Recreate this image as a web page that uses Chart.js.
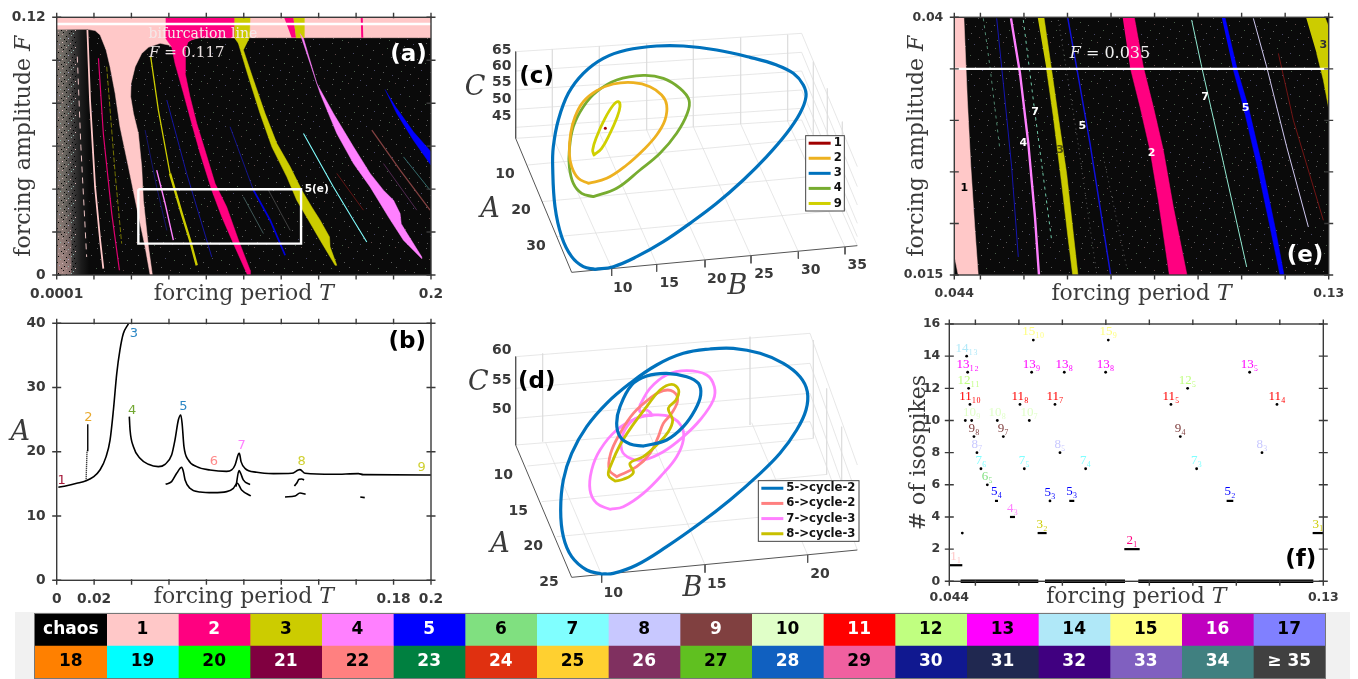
<!DOCTYPE html>
<html lang="en">
<head>
<meta charset="UTF-8">
<title>Forced oscillator: isospike diagrams</title>
<script src="https://cdn.jsdelivr.net/npm/chart.js@4.4.1/dist/chart.umd.min.js"></script>
<style>
    html, body { margin: 0; background: #fff; }
    canvas { position: absolute; }
    #stripBack { position: absolute; left: 15px; top: 612px; width: 1335px; height: 67px; background: #f1f1f1; }
    #strip { outline: 1px solid #777; }
</style>
</head>
<body>
<canvas id="panelA" width="450" height="310" style="left:0;top:0"></canvas>
<canvas id="panelB" width="450" height="300" style="left:0;top:310px"></canvas>
<canvas id="panelC" width="430" height="290" style="left:450px;top:20px"></canvas>
<canvas id="panelD" width="430" height="290" style="left:450px;top:320px"></canvas>
<canvas id="panelE" width="468" height="310" style="left:890px;top:0"></canvas>
<canvas id="panelF" width="468" height="300" style="left:890px;top:310px"></canvas>
<div id="stripBack"></div>
<canvas id="strip" width="1290" height="64" style="left:35px;top:614px"></canvas>
<script>
// ---- panel (a): periodic windows in the (T, F) plane ----
const aPinkT = [.0001,.2,.2,.0767,.0722,.0687,.0642,.0598,.0553,.0491,.0455,.0420,.0398,.0396,.0411,.0437,.0455,.0464,.0491,.0512,.0500,.0473,.0428,.0384,.0339,.0313,.0286,.0265,.0233,.0206,.0165,.0001];
const aPinkF = [.12,.12,.1105,.1105,.1097,.1079,.1048,.1071,.1079,.1060,.1032,.0970,.0892,.0830,.0752,.0659,.0504,.0348,.0131,0,0,.0131,.0317,.0504,.0690,.0846,.0970,.1048,.1118,.1138,.1144,.1144];
const aTwoT = [.0583,.0950,.0950,.0749,.0704,.0687,.0687,.0713,.0749,.0793,.0847,.0909,.0972,.1034,.1034,.1020,.0945,.0883,.0829,.0767,.0722,.0678,.0633,.0615,.0583];
const aTwoF = [.12,.12,.1105,.1105,.1087,.1048,.0939,.0830,.0706,.0581,.0426,.0317,.0162,.0022,0,0,.0146,.0270,.0395,.0566,.0706,.0846,.0985,.1063,.1102];
const aThreeT = [.0950,.1034,.1030,.0998,.1052,.1114,.1177,.1248,.1310,.1363,.1408,.1458,.1461,.1497,.1488,.1408,.1346,.1283,.1230,.1150,.1087,.1025,.0971,.0950];
const aThreeF = [.12,.12,.1105,.1048,.0908,.0752,.0612,.0504,.0395,.0317,.0255,.0177,.0131,.0045,.0045,.0162,.0255,.0348,.0457,.0597,.0752,.0923,.1079,.1105];
const aTopTwoT = [.1215,.1265,.1279,.1255];
const aTopTwoF = [.12,.12,.1107,.1107];
const aTopThreeT = [.1265,.1322,.1322,.1279];
const aTopThreeF = [.12,.12,.1105,.1105];
const aFourT = [.1301,.1408,.1497,.1586,.1675,.1773,.1853,.1951,.1951,.1862,.1841,.1835,.1800,.1746,.1675,.1586,.1479,.1390,.1319];
const aFourF = [.1125,.0846,.0659,.0519,.0410,.0270,.0162,.0076,.0084,.0208,.0239,.0286,.0348,.0395,.0473,.0597,.0752,.0892,.1102];
const aFiveT = [.1755,.1817,.1906,.2,.2,.1906,.1817];
const aFiveF = [.0864,.0752,.0628,.0511,.0574,.0667,.0776];
// thin windows: [T values, F values, colour, width, dash]
const aThin = [
    [[.0165,.0179,.0206,.0233,.0250], [.1141,.0815,.0410,.0162,.0030], '#ffc8c8', 1.8],
    [[.0111,.0130,.0161], [.1017,.0600,.0084], '#e8c0c0', 1, [6,5]],
    [[.0224,.0250,.0295,.0336], [.1009,.0659,.0286,.0022], '#e00070', 1.2],
    [[.0268,.0313,.0348], [.0970,.0473,.0146], '#909000', 0.8, [5,2]],
    [[.0503,.0544,.0606], [.1017,.0768,.0473], '#cccc00', 1.3],
    [[.0606,.0669,.0713,.0749], [.0473,.0286,.0162,.0045], '#cccc00', 2.4],
    [[.0473,.0535,.0589], [.0675,.0410,.0208], '#14146c', 1],
    [[.0535,.0580,.0624], [.0488,.0333,.0162], '#ff80ff', 1.4],
    [[.0589,.0695,.0829], [.0815,.0473,.0084], '#1414a0', 1],
    [[.0927,.1052], [.0690,.0395], '#14148c', 1],
    [[.1052,.1141,.1221], [.0395,.0255,.0092], '#0000d8', 1.8],
    [[.1319,.1479,.1586,.1657], [.0659,.0410,.0255,.0154], '#80ffff', 1.1],
    [[.1684,.1835,.1995], [.0675,.0488,.0302], '#804040', 1.3],
    [[.1497,.1639], [.0473,.0302], '#601414', 1],
    [[.1746,.1924], [.0519,.0302], '#502850', 1],
    [[.1853,.1995], [.0550,.0395], '#366c6c', 1],
    [[.0998,.1105], [.0364,.0193], '#405858', 1],
    [[.1132,.1248], [.0395,.0208], '#404040', 1],
    [[.1630,.1633], [.12,.1105], '#ff0080', 2]
];
const aBoxT = [.0437,.1306,.1306,.0437,.0437];
const aBoxF = [.0399,.0399,.0146,.0146,.0399];
const aBifF = .1169;
const aTicksT = [.0001,.02,.04,.06,.08,.1,.12,.14,.16,.18,.2];
const aTicksF = [0,.02,.04,.06,.08,.1,.12];

// ---- panel (b): amplitude of the cycles ----
const bMainT = [.0009,.0053,.0107,.0157,.0196,.0232,.0264,.0285,.0303,.0321,.0338,.0356,.0383];
const bMainA = [14.47,14.73,15.1,15.5,16.1,17.2,19.25,21.8,26.5,32.2,35.85,38.4,39.9];
const bRightT = [.0388,.0392,.0410,.0445,.0490,.0543,.0579,.0614,.0632,.0650,.0663,.0670,.0680,.0703,.0748,.0819,.0908,.0935,.0953,.0971,.0976,.0985,.1006,.1069,.1158,.1256,.1291,.1300,.1327,.1478,.1612,.1638,.2];
const bRightA = [25.47,23.4,20.8,18.99,18.05,17.69,18.05,19.5,21.84,24.95,25.73,24.44,20.8,18.73,17.69,17.17,16.96,17.17,17.95,19.66,19.77,18.47,17.43,16.81,16.6,16.65,17.17,17.22,16.65,16.5,16.6,16.45,16.4];
const bLowT = [.0582,.0614,.0641,.0668,.0677,.0686,.0712,.0766,.0837,.0908,.0944,.0965,.0988,.1037];
const bLowA = [14.94,15.36,16.65,17.59,16.91,15.62,14.32,13.75,13.64,13.8,14.32,15.1,14.06,13.13];
const bSevenT = [.0958,.0974,.0983,.0997,.1033];
const bSevenA = [14.58,17.07,16.65,15.62,14.89];
const bEightUpT = [.1270,.1282,.1295,.1309,.1322];
const bEightUpA = [14.68,15.1,15.72,15.77,15.62];
const bEightLowT = [.1220,.1273,.1300,.1330];
const bEightLowA = [12.97,13.13,13.59,13.39];
const bDashT = [.1622,.1646];
const bDashA = [12.97,12.87];
const bTwoSolidT = [.0162,.0166];
const bTwoSolidA = [20.2,24.3];
const bTwoDotT = [.0157,.0162];
const bTwoDotA = [15.5,20.2];
const bCycleNames = ['1','2','3','4','5','6','7','8','9'];
const bCycleT = [.0027,.0169,.0413,.0403,.0677,.0840,.0988,.1309,.1950];
const bCycleA = [15.46,25.37,38.44,26.46,27.03,18.52,20.96,18.42,17.59];
const bCycleColors = ['#a5193a','#e8a92c','#2a86c4','#72a832','#2a86c4','#ff8a8a','#ff80ff','#d0d030','#d0d030'];
const bTicksT = [0,.02,.04,.06,.08,.1,.12,.14,.16,.18,.2];
const bTicksA = [0,10,20,30,40];

// ---- panel (c): limit cycles, in projected view coordinates ----
const cBlueX = [435,400,365,335,315,308,310,325,355,400,460,530,620,700,800,900,980,1030,1060,1068,1050,1010,950,880,800,720,640,560,490,435];
const cBlueY = [748,740,710,650,560,440,380,300,220,160,115,90,78,78,90,112,135,160,195,230,280,340,410,480,550,610,665,710,740,748];
const cOrangeX = [415,385,365,358,362,375,400,440,490,550,600,635,650,645,620,580,530,470,415];
const cOrangeY = [490,475,440,400,340,290,245,212,192,188,200,225,255,300,345,390,435,475,490];
const cGreenX = [430,395,370,358,358,370,400,440,500,580,640,690,717,712,680,630,570,500,430];
const cGreenY = [530,520,490,440,390,320,260,215,180,166,175,205,240,280,340,400,450,505,530];
const cYellowX = [432,428,440,465,490,505,510,500,480,455,432];
const cYellowY = [405,390,350,295,255,245,260,295,340,385,405];
const cDotX = [466];
const cDotY = [325];
const cGridX = [197,1055,null,197,1055,null,197,1055,null,197,1055,null,197,1055,null,197,1055,null,
    307,307,null,448,448,null,590,590,null,730,730,null,872,872,null,1013,1013,null,
    307,485,null,448,620,null,590,765,null,730,903,null,872,1045,null,1013,1185,null,
    233,1090,null,275,1132,null,320,1177,null,1090,1090,null,1132,1132,null,1177,1177,null,
    1055,1222,null,1055,1222,null,1055,1222,null,1055,1222,null,1055,1222,null,1055,1222];
const cGridY = [95,40,null,153,97,null,210,153,null,268,210,null,322,265,null,355,300,null,
    88,348,null,78,338,null,70,330,null,60,320,null,52,312,null,44,304,null,
    348,745,null,338,733,null,330,720,null,320,708,null,312,695,null,304,681,null,
    435,355,null,545,465,null,650,570,null,125,355,null,205,465,null,305,570,null,
    40,440,null,97,500,null,153,555,null,210,610,null,265,650,null,300,677];
const cAxisX = [197,197,365,1222,null,485,485,null,620,620,null,765,765,null,903,903,null,1045,1045,null,1185,1185];
const cAxisY = [95,355,757,677,null,745,768,null,733,755,null,720,742,null,708,730,null,695,716,null,681,703];
const cNames = ['1','2','3','4','9'];
const cColors = ['#a00000','#edb120','#0072bd','#77ac30','#d0d000'];

// ---- panel (d): cycles after the period-doubling, same view coordinates ----
const dBigX = [455,410,365,340,332,340,365,410,470,540,620,700,780,850,930,1000,1050,1072,1068,1040,990,920,840,750,650,560,490,455];
const dBigY = [762,750,710,650,570,480,400,320,250,190,135,100,87,85,100,130,170,215,270,330,400,470,540,610,680,735,760,762];
const dSmallX = [580,540,510,500,510,545,590,650,710,745,752,735,700,650,580];
const dSmallY = [378,372,350,310,260,195,168,160,170,190,225,270,320,360,378];
const dPinkLowX = [480,440,420,425,450,500,560,610,660,695,700,680,640,580,520,480];
const dPinkLowY = [568,550,510,450,390,330,295,285,290,320,360,410,460,520,560,568];
const dPinkUpX = [570,600,650,710,770,793,790,750,700,640,580,540,515,520,550,590,605,590,570,570];
const dPinkUpY = [255,205,165,152,165,200,240,300,350,395,420,415,390,340,300,285,285,270,275,255];
const dSalmonX = [500,478,482,510,550,600,640,670,683,665,640,625,600,560,500];
const dSalmonY = [470,450,400,340,280,235,212,215,240,280,310,350,400,440,470];
const dOliveX = [495,520,550,540,580,620,655,668,655,678,686,665,630,590,545,510,485,475,495];
const dOliveY = [483,478,458,430,410,375,335,300,265,240,210,193,210,260,320,375,430,465,483];
const dGridX = [197,1080,null,197,1080,null,197,1080,null,197,1080,null,
    278,278,null,590,590,null,900,900,null,
    287,455,null,597,765,null,905,1073,null,
    232,1090,null,275,1132,null,320,1177,null,1090,1090,null,1130,1130,null,1175,1175,null,
    1080,1222,null,1080,1222,null,1080,1222,null,1080,1222];
const dGridY = [110,40,null,205,130,null,295,220,null,375,305,null,
    100,365,null,75,340,null,50,315,null,
    368,765,null,338,735,null,308,705,null,
    438,355,null,545,463,null,650,568,null,60,355,null,205,463,null,320,568,null,
    40,435,null,130,530,null,220,620,null,305,690];
const dAxisX = [197,197,365,1222,null,455,455,null,765,765,null,1073,1073];
const dAxisY = [110,375,772,690,null,765,788,null,735,758,null,705,728];
const dNames = ['5->cycle-2','6->cycle-2','7->cycle-3','8->cycle-3'];
const dColors = ['#0072bd','#ff8080','#ff80ff','#c8c000'];

// ---- panel (e): zoom of the white box in (a) ----
const ePinkT = [.044,.0462,.0470,.0478,.0487,.0495,.0449,.044];
const ePinkF = [.04,.04,.03197,.0255,.01966,.015,.015,.0169];
const eOliveT = [.06315,.0646,.06636,.06789,.06981,.07134,.07241,.07119,.07019,.06866,.06674,.06521];
const eOliveF = [.04,.04,.03488,.03035,.02484,.01902,.015,.015,.01837,.02387,.03035,.03488];
const eTwoT = [.08267,.08535,.08742,.08972,.09202,.09431,.09745,.09339,.09087,.08895,.08666,.08436];
const eTwoF = [.04,.04,.0352,.03132,.02711,.02161,.015,.015,.02225,.02711,.03132,.0352];
const eFiveT = [.10542,.10618,.10902,.11154,.11461,.11767,.11974,.11882,.11652,.11346,.1104,.1081];
const eFiveF = [.04,.04,.03488,.03132,.02581,.01966,.015,.015,.01966,.02581,.03132,.03488];
const eCornerT = [.12479,.12916,.13,.13,.12877,.12724];
const eCornerF = [.04,.04,.03909,.03116,.03391,.0365];
const eThin = [
    [[.05702,.05909,.061,.06253,.06345], [.0399,.03456,.02776,.02063,.015], '#ff80ff', 2.4, null],
    [[.05373,.05526,.05717,.0587], [.0399,.03359,.02549,.01675], '#1414b0', 1, null],
    [[.07004,.07249,.07517,.07992], [.04,.03423,.02776,.015], '#1010d8', 1.5, null],
    [[.09852,.10082,.10465,.11116], [.03974,.0352,.02808,.01578], '#90e8d0', 1, null],
    [[.11269,.11575,.12035,.12533], [.0399,.0352,.02743,.01966], '#d0c8f0', 1, null],
    [[.05066,.05219,.05449], [.0399,.0352,.02711], '#508870', 1, [3,4]],
    [[.05985,.06215,.06636], [.03974,.03197,.01837], '#70c8a8', 1, [3,4]],
    [[.06789,.07211,.0767], [.03974,.02873,.01513], '#606060', 1, [1,4]],
    [[.07823,.08359], [.02646,.01578], '#606060', 1, [1,4]],
    [[.11844,.12188,.12877], [.0365,.03002,.02031], '#701414', 1, null]
];
const eBifF = .035;
const eTicksT = [.044,.05,.06,.07,.08,.09,.1,.11,.12,.13];
const eTicksF = [.015,.02,.025,.03,.035,.04];

// ---- panel (f): isospike count along F = 0.035 ----
const fDotT = [.04699,.04768,.04914,.04799,.04822,.04845,.04875,.04967,.05036,.05128,.05274,.05504,.05642,.06025,.06125,.0624,.06293,.06332,.06715,.0683,.06945,.07044,.07535,.07995,.08056,.09497,.09712,.0988,.10087,.1159,.11306,.11935];
const fDotN = [3,10,10,14,13,12,11,9,8,7,6,10,9,11,7,10,13,15,5,11,8,13,7,13,15,11,9,12,7,8,13,11];
const fDotLab = ['','','10₉','14₁₃','13₁₂','12₁₁','11₁₀','9₈','8₇','7₆','6₅','10₈','9₇','11₈','7₅','10₇','13₉','15₁₀','5₃','11₇','8₅','13₈','7₄','13₈','15₉','11₅','9₄','12₅','7₃','8₃','13₅','11₄'];
const fSegFrom = [.044,.0545,.05795,.06431,.07159,.08424,.10777,.12755,.04661,.066,.08746];
const fSegTo = [.04699,.0552,.0591,.06638,.07274,.08777,.1093,.13,.06447,.0844,.1277];
const fSegN = [1,5,4,3,5,2,5,3,0,0,0];
const fSegLab = ['1₁','5₄','4₃','3₂','5₃','2₁','5₂','3₁','','',''];
const fTicksN = [0,2,4,6,8,10,12,14,16];

// ---- colour bar ----
const stripTop = ['chaos','1','2','3','4','5','6','7','8','9','10','11','12','13','14','15','16','17'];
const stripBottom = ['18','19','20','21','22','23','24','25','26','27','28','29','30','31','32','33','34','≥ 35'];
const topColors = ['#000000','#ffc8c8','#ff0080','#cccc00','#ff80ff','#0000ff','#80e080','#80ffff','#c8c8ff','#804040','#e0ffc8','#ff0000','#c0ff80','#ff00ff','#b0e8f8','#ffff80','#c000c0','#8080ff'];
const bottomColors = ['#ff8000','#00ffff','#00ff00','#800040','#ff8080','#008040','#e03010','#ffd030','#803060','#60c020','#1060c0','#f060a0','#101890','#202850','#400080','#8060c0','#408080','#404040'];
const topInk = ['#fff','#000','#fff','#000','#000','#fff','#000','#000','#000','#fff','#000','#fff','#000','#000','#000','#000','#fff','#000'];
const bottomInk = ['#000','#000','#000','#fff','#000','#fff','#fff','#000','#fff','#000','#fff','#000','#fff','#fff','#fff','#fff','#fff','#fff'];

// background texture of the chaotic region: hand placed pixels of a repeating tile
const speckleDots = [[3,2,0],[11,7,1],[19,1,2],[28,5,0],[37,3,3],[44,9,0],[6,13,2],[15,16,0],[24,12,3],[33,14,1],[41,18,0],[2,22,1],[10,25,0],[20,21,0],[29,24,2],[38,26,0],[45,29,3],[7,31,0],[16,34,3],[25,30,1],[34,33,0],[42,37,2],[4,38,0],[13,40,1],[22,37,0],[31,39,3]];
const speckleInk = ['#5c5c5c','#4a604a','#604a4a','#4a4a68'];
const bandDots = [[1,1,0],[5,0,1],[9,2,0],[14,1,2],[17,3,0],[3,4,2],[7,5,0],[11,4,3],[15,6,0],[0,7,0],[5,8,4],[9,7,0],[13,9,1],[18,8,0],[2,10,3],[7,11,0],[11,11,2],[16,11,0],[4,13,0],[9,13,1],[14,14,0],[18,13,4],[1,15,1],[6,15,0],[12,16,0],[16,16,2]];
const bandInk = ['#000000','#c0a0a0','#90b0a8','#a8a8c8','#d8b8b8'];

const INK = '#3a3a3a';
const SERIF = '"DejaVu Serif"';
const SANS = '"DejaVu Sans"';

function zip(xs, ys) {
    return xs.map((x, i) => (x === null ? { x: NaN, y: NaN } : { x: x, y: ys[i] }));
}
function area(xs, ys, color) {
    return { data: zip(xs, ys), showLine: true, fill: 'shape', backgroundColor: color, borderColor: color, borderWidth: 0.5, pointRadius: 0 };
}
function line(xs, ys, color, width, dash) {
    return { data: zip(xs, ys), showLine: true, fill: false, borderColor: color, borderWidth: width, borderDash: dash || [], pointRadius: 0 };
}
function smooth(xs, ys, color, width) {
    return Object.assign(line(xs, ys, color, width), { tension: 0.4, borderCapStyle: 'round' });
}
// for curves that are single valued in T
function curve(xs, ys) {
    return Object.assign(line(xs, ys, '#000', 1.6), { cubicInterpolationMode: 'monotone' });
}
function tile(ctx, w, h, dots, inks) {
    const t = document.createElement('canvas');
    t.width = w;
    t.height = h;
    const c = t.getContext('2d');
    dots.forEach(d => { c.fillStyle = inks[d[2]]; c.fillRect(d[0], d[1], 1, 1); });
    return ctx.createPattern(t, 'repeat');
}

// Fills the plot area: black with specks, plus the grey noisy band at small T in panel (a)
const plotBack = {
    id: 'plotBack',
    beforeDatasetsDraw(chart, args, opts) {
        if (!opts.color) return;
        const a = chart.chartArea, c = chart.ctx;
        c.save();
        c.fillStyle = opts.color;
        c.fillRect(a.left, a.top, a.width, a.height);
        c.fillStyle = tile(c, 47, 41, speckleDots, speckleInk);
        c.fillRect(a.left, a.top, a.width, a.height);
        if (opts.band) {
            const x0 = chart.scales.x.getPixelForValue(.0001), x1 = chart.scales.x.getPixelForValue(.0175);
            const g = c.createLinearGradient(x0, 0, x1, 0);
            opts.band.forEach((s, i) => g.addColorStop(i / (opts.band.length - 1), s));
            c.fillStyle = g;
            c.fillRect(x0, a.top, x1 - x0, a.height);
            // pinker towards the lower corner
            const p = c.createLinearGradient(0, a.bottom - 70, 0, a.bottom);
            p.addColorStop(0, 'rgba(230,170,170,0)');
            p.addColorStop(1, 'rgba(230,170,170,.45)');
            c.fillStyle = p;
            c.fillRect(x0, a.bottom - 70, (x1 - x0) * .45, 70);
            c.fillStyle = tile(c, 19, 17, bandDots, bandInk);
            c.fillRect(x0, a.top, (x1 - x0) * .6, a.height);
        }
        c.restore();
    }
};

// Frame and in/out tick marks on all four sides
const frame = {
    id: 'frame',
    afterDatasetsDraw(chart, args, opts) {
        if (!opts.show) return;
        const a = chart.chartArea, c = chart.ctx, s = 4.5;
        c.save();
        c.strokeStyle = INK;
        c.lineWidth = 1.4;
        c.strokeRect(a.left, a.top, a.width, a.height);
        c.beginPath();
        chart.scales.x.ticks.forEach(t => {
            const p = chart.scales.x.getPixelForValue(t.value);
            c.moveTo(p, a.top - s); c.lineTo(p, a.top + 1);
            c.moveTo(p, a.bottom - 1); c.lineTo(p, a.bottom + s);
        });
        chart.scales.y.ticks.forEach(t => {
            const p = chart.scales.y.getPixelForValue(t.value);
            c.moveTo(a.left - s, p); c.lineTo(a.left + s, p);
            c.moveTo(a.right - s, p); c.lineTo(a.right + s, p);
        });
        c.stroke();
        c.restore();
    }
};

// Text placed in data coordinates
const notes = {
    id: 'notes',
    afterDraw(chart, args, opts) {
        const c = chart.ctx;
        (opts.items || []).forEach(n => {
            c.save();
            c.font = n.font;
            c.fillStyle = n.color;
            c.textAlign = n.align || 'center';
            c.textBaseline = 'middle';
            c.fillText(n.text, chart.scales.x.getPixelForValue(n.x), chart.scales.y.getPixelForValue(n.y));
            c.restore();
        });
    }
};

// Line legend for the 3D panels, in view coordinates
const boxLegend = {
    id: 'boxLegend',
    afterDraw(chart, args, opts) {
        if (!opts.box) return;
        const c = chart.ctx, sx = chart.scales.x, sy = chart.scales.y, b = opts.box;
        const left = sx.getPixelForValue(b[0]), top = sy.getPixelForValue(b[1]);
        const w = sx.getPixelForValue(b[2]) - left, h = sy.getPixelForValue(b[3]) - top;
        const rowH = h / opts.names.length;
        c.save();
        c.fillStyle = '#fff';
        c.fillRect(left, top, w, h);
        c.strokeStyle = '#444';
        c.lineWidth = 1;
        c.strokeRect(left, top, w, h);
        c.font = 'bold 11.7px ' + SANS;
        c.textBaseline = 'middle';
        opts.names.forEach((name, i) => {
            const y = top + rowH * (i + 0.5);
            c.strokeStyle = opts.colors[i];
            c.lineWidth = 3;
            c.beginPath();
            c.moveTo(left + 3, y);
            c.lineTo(left + opts.keyW, y);
            c.stroke();
            c.fillStyle = '#111';
            c.fillText(name, left + opts.keyW + 3, y);
        });
        c.restore();
    }
};

// Cell captions of the colour bar
const cellText = {
    id: 'cellText',
    afterDatasetsDraw(chart) {
        const c = chart.ctx;
        c.save();
        c.font = 'bold 17px ' + SANS;
        c.textAlign = 'center';
        c.textBaseline = 'middle';
        chart.data.datasets.forEach((ds, i) => {
            chart.getDatasetMeta(i).data.forEach((bar, j) => {
                c.fillStyle = ds.inks[j];
                c.fillText(ds.captions[j], (bar.x + bar.base) / 2, bar.y);
            });
        });
        c.restore();
    }
};

// 2D panel with fixed plot rectangle. Chart.js paints dataset 0 last, so the list is flipped.
function panel(id, g, datasets, o) {
    const titleFont = { family: SERIF, size: 22 };
    const tickFont = { family: SANS, weight: 'bold', size: g.tickSize };
    return new Chart(document.getElementById(id), {
        type: 'scatter',
        data: { datasets: datasets.slice().reverse() },
        plugins: [plotBack, frame, notes],
        options: {
            responsive: false, animation: false,
            events: [],
            layout: { autoPadding: false, padding: { left: 0, top: g.top, right: g.right, bottom: 0 } },
            plugins: {
                legend: { display: false }, tooltip: { enabled: false },
                plotBack: { color: o.back, band: o.band },
                frame: { show: !o.frameUnder },
                notes: { items: o.notes || [] }
            },
            scales: {
                x: {
                    type: 'linear', min: o.xTicks[0], max: o.xTicks[o.xTicks.length - 1],
                    grid: { display: false }, border: { display: false },
                    afterBuildTicks: s => { s.ticks = o.xTicks.map(v => ({ value: v })); },
                    afterFit: s => { s.height = g.bottom; },
                    ticks: { autoSkip: false, maxRotation: 0, padding: g.xTickPad, color: INK, font: tickFont,
                        callback: (v, i) => o.xLabels[i] },
                    title: { display: true, text: o.xTitle, color: INK, font: titleFont, padding: { top: 0, bottom: g.xTitlePad } }
                },
                y: {
                    type: 'linear', min: o.yTicks[0], max: o.yTicks[o.yTicks.length - 1],
                    grid: { display: false }, border: { display: false },
                    afterBuildTicks: s => { s.ticks = o.yTicks.map(v => ({ value: v })); },
                    afterFit: s => { s.width = g.left; },
                    ticks: { autoSkip: false, padding: g.yTickPad, color: INK, font: tickFont,
                        callback: (v, i) => o.yLabels[i] },
                    title: { display: !!o.yTitle, text: o.yTitle, color: INK, font: titleFont, padding: { top: g.yTitlePad, bottom: 0 } }
                }
            }
        }
    });
}

function view3d(id, datasets, items, legendOpts) {
    return new Chart(document.getElementById(id), {
        type: 'scatter',
        data: { datasets: datasets.slice().reverse() },
        plugins: [notes, boxLegend],
        options: {
            responsive: false, animation: false, events: [],
            layout: { autoPadding: false, padding: 0 },
            plugins: {
                legend: { display: false }, tooltip: { enabled: false },
                notes: { items: items }, boxLegend: legendOpts
            },
            scales: {
                x: { type: 'linear', min: 0, max: 1290, display: false },
                y: { type: 'linear', min: 0, max: 870, reverse: true, display: false }
            }
        }
    });
}

const tickNote = (x, y, text) => ({ x: x, y: y, text: text, font: 'bold 14px ' + SANS, color: INK });
const bigSerif = (x, y, text) => ({ x: x, y: y, text: text, font: 'italic 27px ' + SERIF, color: INK });
const tag = (x, y, text, color) => ({ x: x, y: y, text: text, font: 'bold 23px ' + SANS, color: color || '#000' });
const fFont = '13px "Liberation Serif", ' + SERIF;

// ---- (a) ----
panel('panelA', { top: 17.3, right: 19, left: 56.7, bottom: 35, tickSize: 13.8, xTickPad: 3, yTickPad: 3, xTitlePad: 3, yTitlePad: 11 }, [
    area(aPinkT, aPinkF, topColors[1]),
    area(aTwoT, aTwoF, topColors[2]),
    area(aThreeT, aThreeF, topColors[3]),
    area(aTopTwoT, aTopTwoF, topColors[2]),
    area(aTopThreeT, aTopThreeF, topColors[3]),
    area(aFourT, aFourF, topColors[4]),
    area(aFiveT, aFiveF, topColors[5]),
    ...aThin.map(t => line(t[0], t[1], t[2], t[3], t[4])),
    line([.0001, .2], [aBifF, aBifF], '#fff', 2.4),
    line(aBoxT, aBoxF, '#fff', 2.4)
], {
    back: '#0a0a0a',
    band: ['#80766f', '#6a6660', '#3c3a3a', '#1c1c1c', '#0a0a0a'],
    xTicks: aTicksT, yTicks: aTicksF,
    xLabels: ['0.0001','','','','','','','','','','0.2'],
    yLabels: ['0','','','','','','0.12'],
    xTitle: 'forcing period 𝑇', yTitle: 'forcing amplitude 𝐹',
    notes: [
        { x: .0491, y: .1121, text: 'bifurcation line', font: '14px ' + SERIF, color: '#f4e8e8', align: 'left' },
        { x: .0494, y: .1032, text: '𝐹 = 0.117', font: '15px ' + SERIF, color: '#e8e0e0', align: 'left' },
        { x: .1390, y: .0399, text: '5(e)', font: 'bold 10.5px ' + SANS, color: '#fff' },
        tag(.188, .1024, '(a)', '#fff')
    ]
});

// ---- (b) ----
panel('panelB', { top: 13.3, right: 19, left: 56.7, bottom: 29.7, tickSize: 13.8, xTickPad: 3, yTickPad: 3, xTitlePad: 0, yTitlePad: 9 }, [
    curve(bMainT, bMainA),
    curve(bRightT, bRightA),
    curve(bLowT, bLowA),
    curve(bSevenT, bSevenA),
    curve(bEightUpT, bEightUpA),
    curve(bEightLowT, bEightLowA),
    line(bDashT, bDashA, '#000', 1.6),
    line(bTwoSolidT, bTwoSolidA, '#000', 1.4),
    line(bTwoDotT, bTwoDotA, '#000', 1.4, [1, 1])
], {
    xTicks: bTicksT, yTicks: bTicksA,
    xLabels: ['0','0.02','','','','','','','','0.18','0.2'],
    yLabels: ['0','10','20','30','40'],
    xTitle: 'forcing period 𝑇', yTitle: '',
    notes: [
        ...bCycleNames.map((n, i) => ({ x: bCycleT[i], y: bCycleA[i], text: n, font: '13px ' + SANS, color: bCycleColors[i] })),
        { x: -.0195, y: 23, text: 'A', font: 'italic 27px ' + SERIF, color: INK },
        tag(.1873, 37.1, '(b)')
    ]
});

// ---- (c) ----
view3d('panelC', [
    line(cGridX, cGridY, '#dcdcdc', 0.7),
    line(cAxisX, cAxisY, '#555', 1),
    smooth(cBlueX, cBlueY, cColors[2], 3.2),
    smooth(cGreenX, cGreenY, cColors[3], 2.8),
    smooth(cOrangeX, cOrangeY, cColors[1], 2.8),
    smooth(cYellowX, cYellowY, cColors[4], 2.8),
    Object.assign(line(cDotX, cDotY, cColors[0], 0), { pointRadius: 1.5, pointBackgroundColor: cColors[0], pointBorderWidth: 0 })
], [
    tickNote(155, 90, '65'), tickNote(155, 138, '60'), tickNote(155, 188, '55'), tickNote(155, 238, '50'), tickNote(155, 290, '45'),
    tickNote(165, 462, '10'), tickNote(213, 572, '20'), tickNote(258, 678, '30'),
    tickNote(518, 805, '10'), tickNote(658, 790, '15'), tickNote(800, 778, '20'), tickNote(942, 763, '25'), tickNote(1082, 750, '30'), tickNote(1222, 737, '35'),
    bigSerif(75, 205, 'C'), bigSerif(120, 570, 'A'), bigSerif(862, 800, 'B'),
    tag(260, 170, '(c)')
], { box: [1067, 347, 1183, 573], names: cNames, colors: cColors, keyW: 25 });

// ---- (d) ----
view3d('panelD', [
    line(dGridX, dGridY, '#dcdcdc', 0.7),
    line(dAxisX, dAxisY, '#555', 1),
    smooth(dPinkLowX, dPinkLowY, dColors[2], 2.8),
    smooth(dPinkUpX, dPinkUpY, dColors[2], 2.8),
    smooth(dSalmonX, dSalmonY, dColors[1], 2.8),
    smooth(dOliveX, dOliveY, dColors[3], 2.8),
    smooth(dBigX, dBigY, dColors[0], 3.2),
    smooth(dSmallX, dSmallY, dColors[0], 3.2)
], [
    tickNote(155, 90, '60'), tickNote(155, 180, '55'), tickNote(155, 268, '50'),
    tickNote(160, 465, '10'), tickNote(205, 573, '15'), tickNote(250, 678, '20'), tickNote(297, 787, '25'),
    tickNote(490, 820, '10'), tickNote(800, 792, '15'), tickNote(1110, 763, '20'),
    bigSerif(85, 190, 'C'), bigSerif(150, 675, 'A'), bigSerif(727, 808, 'B'),
    tag(260, 185, '(d)')
], { box: [925, 482, 1227, 664], names: dNames, colors: dColors, keyW: 25 });

// ---- (e) ----
panel('panelE', { top: 17.3, right: 29.3, left: 64.3, bottom: 35, tickSize: 12.5, xTickPad: 3, yTickPad: 3, xTitlePad: 3, yTitlePad: 14 }, [
    area(ePinkT, ePinkF, topColors[1]),
    area(eOliveT, eOliveF, topColors[3]),
    area(eTwoT, eTwoF, topColors[2]),
    area(eFiveT, eFiveF, topColors[5]),
    area(eCornerT, eCornerF, topColors[3]),
    ...eThin.map(t => line(t[0], t[1], t[2], t[3], t[4])),
    line([.044, .13], [eBifF, eBifF], '#fff', 2.4)
], {
    back: '#0a0a0a',
    xTicks: eTicksT, yTicks: eTicksF,
    xLabels: ['0.044','','','','','','','','','0.13'],
    yLabels: ['0.015','','','','','0.04'],
    xTitle: 'forcing period 𝑇', yTitle: 'forcing amplitude 𝐹',
    notes: [
        { x: .07976, y: .0365, text: '𝐹 = 0.035', font: '16px ' + SERIF, color: '#f0f0f0' },
        { x: .0463, y: .02345, text: '1', font: 'bold 11px ' + SANS, color: '#000' },
        { x: .05985, y: .02782, text: '4', font: 'bold 11px ' + SANS, color: '#fff' },
        { x: .06253, y: .03083, text: '7', font: 'bold 11px ' + SANS, color: '#fff' },
        { x: .06828, y: .02711, text: '3', font: 'bold 11px ' + SANS, color: '#55550a' },
        { x: .07341, y: .02947, text: '5', font: 'bold 11px ' + SANS, color: '#fff' },
        { x: .08933, y: .02679, text: '2', font: 'bold 11px ' + SANS, color: '#fff' },
        { x: .10159, y: .03229, text: '7', font: 'bold 11px ' + SANS, color: '#fff' },
        { x: .11093, y: .03122, text: '5', font: 'bold 11px ' + SANS, color: '#fff' },
        { x: .12878, y: .03731, text: '3', font: 'bold 11px ' + SANS, color: '#333' },
        tag(.12456, .01685, '(e)', '#fff')
    ]
});

// ---- (f) ----
const fDots = Object.assign(line(fDotT, fDotN, '#000', 0), { showLine: false, pointRadius: 1.4, pointBackgroundColor: '#000', pointBorderWidth: 0 });
const fColor = n => (n < 18 ? topColors[n] : bottomColors[n - 18]);
// the chaotic stretches sit on the frame, so they are wider than the others to show through it
panel('panelF', { top: 14, right: 34.7, left: 59.3, bottom: 28.7, tickSize: 12.5, xTickPad: 1, yTickPad: 1, xTitlePad: 0, yTitlePad: 16 }, [
    fDots,
    ...fSegN.map((n, i) => Object.assign(line([fSegFrom[i], fSegTo[i]], [n, n], '#000', n === 0 ? 3.4 : 2.2), { clip: false }))
], {
    xTicks: eTicksT, yTicks: fTicksN,
    xLabels: ['0.044','','','','','','','','','0.13'],
    yLabels: ['0','2','4','6','8','10','12','14','16'],
    xTitle: 'forcing period 𝑇', yTitle: '# of isospikes',
    notes: [
        ...fDotLab.map((t, i) => ({ x: fDotT[i], y: fDotN[i] + .5, text: t, font: fFont, color: fColor(fDotN[i]) })),
        ...fSegLab.map((t, i) => ({ x: (fSegFrom[i] + fSegTo[i]) / 2, y: fSegN[i] + .55, text: t, font: fFont, color: fColor(fSegN[i]) })),
        tag(.1248, 1.33, '(f)')
    ]
});

// ---- colour bar: two stacked rows of one-unit cells ----
new Chart(document.getElementById('strip'), {
    type: 'bar',
    data: {
        labels: ['low', 'high'],
        datasets: stripTop.map((t, i) => ({
            data: [1, 1],
            backgroundColor: [topColors[i], bottomColors[i]],
            captions: [t, stripBottom[i]],
            inks: [topInk[i], bottomInk[i]],
            barPercentage: 1, categoryPercentage: 1, borderWidth: 0
        }))
    },
    plugins: [cellText],
    options: {
        indexAxis: 'y', responsive: false, animation: false, events: [],
        layout: { autoPadding: false, padding: 0 },
        plugins: { legend: { display: false }, tooltip: { enabled: false } },
        scales: {
            x: { stacked: true, min: 0, max: 18, display: false },
            y: { stacked: true, display: false }
        }
    }
});
</script>
</body>
</html>
